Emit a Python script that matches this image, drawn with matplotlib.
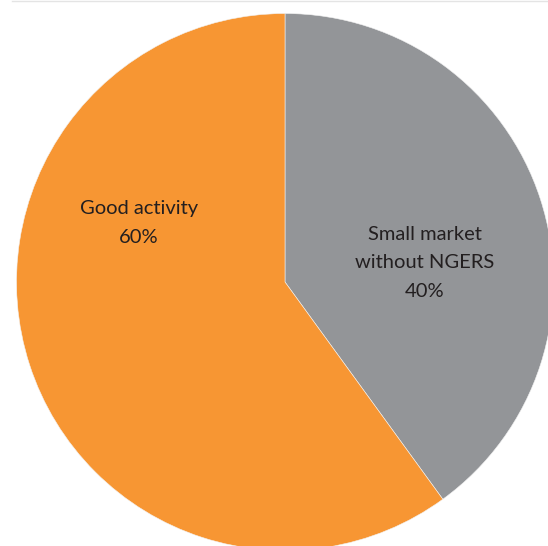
import matplotlib
matplotlib.use("Agg")
import matplotlib.pyplot as plt

categories = ["Small market\nwithout NGERS", "Good activity"]
shares = [40, 60]
colors = ["#939598", "#F79633"]

W, H = 548, 546
fig = plt.figure(figsize=(W / 100, H / 100), dpi=100)
ax = fig.add_axes([0, 0, 1, 1])

cx, cy, r = 285, H - 282, 268.5
wedges, _ = ax.pie(shares, colors=colors, startangle=90, counterclock=False,
                   center=(cx, cy), radius=r, frame=True,
                   wedgeprops=dict(edgecolor="#f2f2f2", linewidth=0.4))
ax.set_xlim(0, W)
ax.set_ylim(0, H)
ax.set_aspect("equal")
ax.axis("off")

font = dict(family="Lato", fontsize=14.5, color="#231F20", ha="center", va="center",
            linespacing=1.85)
ax.text(425, H - 263, f"{categories[0]}\n{shares[0]}%", **font)
ax.text(139, H - 223, f"{categories[1]}\n{shares[1]}%", **font)

# faint rule along the top edge
ax.plot([12, W], [H - 0.5, H - 0.5], color="#e4e4e4", lw=1)

fig.savefig("out.png", dpi=100)
